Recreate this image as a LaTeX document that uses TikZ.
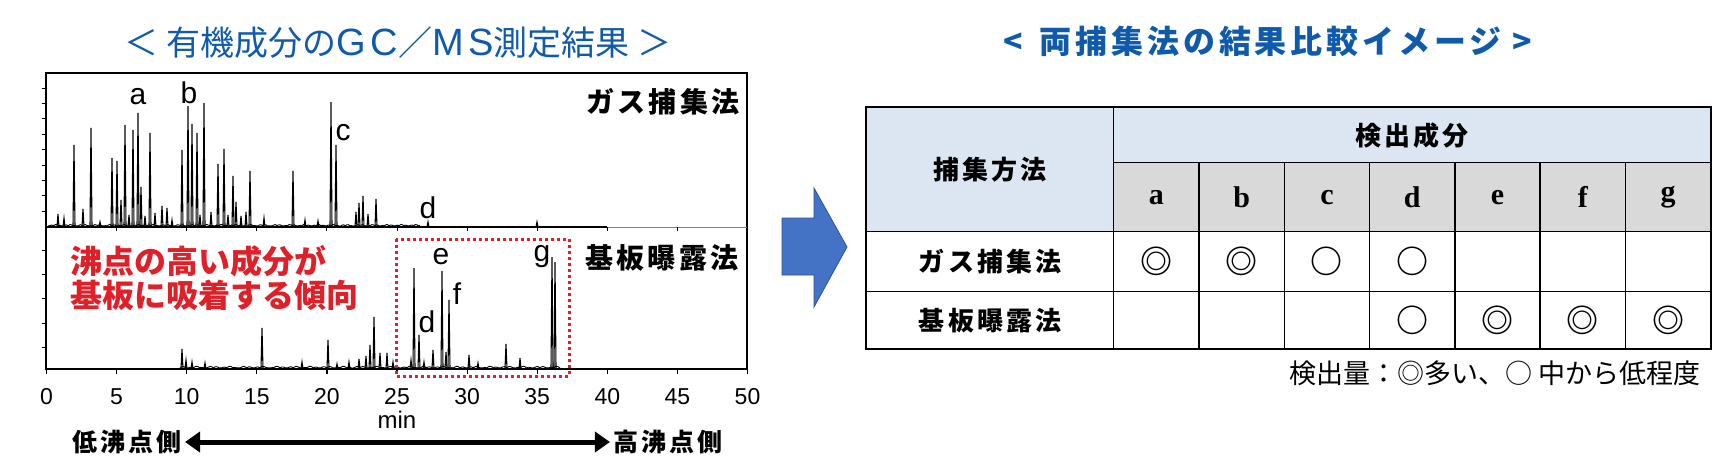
\documentclass[tikz,border=0pt]{standalone}
\usepackage{fontspec}
\setmainfont{Liberation Sans}
\newfontfamily\jp{Noto Sans CJK JP}
\newfontfamily\jpsp{Noto Sans CJK JP}[LetterSpace=12]
\newfontfamily\latsp{Liberation Sans}[LetterSpace=12]
\newfontfamily\serifb{Liberation Serif}
\usetikzlibrary{arrows.meta}

\definecolor{titleblue}{RGB}{16,90,172}
\definecolor{markred}{RGB}{224,32,40}
\definecolor{headblue}{RGB}{220,230,242}
\definecolor{headgray}{RGB}{217,217,217}
\definecolor{arrowblue}{RGB}{68,114,196}
\definecolor{arrowedge}{RGB}{47,82,143}
\newcommand{\fs}[1]{\fontsize{#1}{#1}\selectfont}

\begin{document}
\begin{tikzpicture}[
    x=1pt, y=-1pt,
    title/.style={text=titleblue, font=\jp\fs{34}},
    method/.style={font=\jpsp\bfseries\fs{28}},
    peak/.style={line width=1.1pt},
    noise/.style={line width=0.9pt, samples=240},
    lbl/.style={font=\fs{30}, inner sep=0pt},
    cell/.style={draw, line width=1.4pt, inner sep=0pt, anchor=north west},
    cellj/.style={font=\jpsp\bfseries\fs{26}},
    sym/.style={font=\jp\bfseries\fs{32}},
  ]
  \useasboundingbox (0,0) rectangle (1712,472);

  \node[title] (lefttitle) at (398,43) {＜ 有機成分の{\latsp\fs{38}GC}／{\latsp\fs{38}MS}測定結果 ＞};
  \node[title, font=\jpsp\bfseries\fs{32}] (righttitle) at (1268,41) {<\, 両捕集法の結果比較イメージ >};

  \draw[line width=1.6pt] (46,73) rectangle (747,369);
  \draw[line width=1.2pt] (46,227) -- (607,227);
  \draw[gray, line width=1pt] (607,227) -- (747,227);
  \draw[noise] plot[domain=48:420] (\x, {226-1.6*abs(sin(\x*37))*abs(cos(\x*13))});
  \draw[noise] plot[domain=180:560] (\x, {368-1.8*abs(sin(\x*27))*abs(cos(\x*11))});
  \foreach \t in {0,5,...,45}
    \draw[line width=1pt] ({46.5+14.02*\t},227) -- ++(0,4);
  \foreach \t in {0,5,...,50} {
    \draw[line width=1.2pt] ({46.5+14.02*\t},369) -- ++(0,5);
    \node[font=\fs{23}] (tick\t) at ({46.5+14.02*\t},397) {\t};
  }
  \node[font=\fs{24}] (unit) at (397,420) {min};
  \foreach \k in {0,...,8}
    \draw[line width=1pt] (46,{88+15.4*\k}) -- ++(-4,0);
  \foreach \y in {250,274,298,323,347}
    \draw[line width=1pt] (46,\y) -- ++(-4,0);

  \foreach \x/\h in {58/214, 64/218, 74/145, 83/209, 91/128, 100/222, 112/158, 117/161,
      121/200, 125/125, 129/215, 133/130, 138/113, 141/187, 145/216, 150/133,
      155/213, 162/206, 167/208, 172/220, 182/150, 188/106, 192/124, 197/133,
      200/215, 204/103, 211/212, 218/164, 224/149, 228/215, 233/176, 236/202,
      241/216, 246/212, 250/171, 264/218, 293/171, 305/220, 318/221, 331/102,
      336/145, 356/212, 359/203, 363/196, 368/214, 376/199, 428/222, 537/222}
    \draw[peak] (\x-1,227) -- (\x,\h) -- (\x+1,227);
  \foreach \x/\h in {182/349, 186/360, 192/362, 205/363, 262/328, 302/362, 328/340,
      337/364, 349/362, 359/359, 366/356, 370/345, 374/317, 380/353, 387/353,
      393/362, 411/360, 414/268, 419/335, 424/362, 433/350, 442/271, 446/352,
      449/300, 469/355, 478/363, 506/344, 520/358, 552/257, 555/262}
    \draw[peak] (\x-1,369) -- (\x,\h) -- (\x+1,369);

  \node[lbl] (pa) at (138,97) {a};
  \node[lbl] (pb) at (189,93) {b};
  \node[lbl] (pc) at (343,133) {c};
  \node[lbl] (pd) at (428,208) {d};
  \node[lbl] (qe) at (441,257) {e};
  \node[lbl] (qf) at (457,294) {f};
  \node[lbl] (qg) at (542,257) {g};
  \node[lbl] (qd) at (427,322) {d};

  \node[method] (gasname) at (663,102) {ガス捕集法};
  \node[method] (subname) at (662,258) {基板曝露法};

  \draw[markred, line width=3pt, dash pattern=on 3pt off 3pt] (396,239) rectangle (569,376);
  \node[anchor=west, align=left, text=markred, font=\jp\bfseries\fontsize{32}{34}\selectfont] (note) at (67,278)
    {沸点の高い成分が\\基板に吸着する傾向};

  \node[font=\jpsp\bfseries\fs{25}] (low) at (127,442) {低沸点側};
  \node[font=\jpsp\bfseries\fs{25}] (high) at (668,442) {高沸点側};
  \draw[line width=5pt, {Triangle[length=15pt,width=20pt]}-{Triangle[length=15pt,width=20pt]}] (low) -- (high);

  \draw[fill=arrowblue, draw=arrowedge, line width=0.8pt] (782,218) -- (814,218) -- (814,188)
    -- (847,247) -- (814,307) -- (814,275) -- (782,275) -- cycle;

  \node[cell, fill=headblue, minimum width=247pt, minimum height=124pt, cellj] (meth) at (866,107) {捕集方法};
  \node[cell, fill=headblue, minimum width=597pt, minimum height=55pt, cellj] (det) at (1113,107) {検出成分};
  \node[cell, minimum width=247pt, minimum height=60pt, cellj] (gasrow) at (866,231) {ガス捕集法};
  \node[cell, minimum width=247pt, minimum height=57pt, cellj] (subrow) at (866,291) {基板曝露法};
  \foreach \l/\g/\s [count=\i from 0] in {a/◎/,b/◎/,c/○/,d/○/○,e//◎,f//◎,g//◎} {
    \node[cell, fill=headgray, minimum width=85.28pt, minimum height=69pt, font=\serifb\bfseries\fs{30}]
      (col-\l) at ({1113+85.28*\i},162) {\l};
    \node[cell, minimum width=85.28pt, minimum height=60pt, sym] (gas-\l) at ({1113+85.28*\i},231) {\g};
    \node[cell, minimum width=85.28pt, minimum height=57pt, sym] (sub-\l) at ({1113+85.28*\i},291) {\s};
  }
  \draw[line width=2pt] (meth.north west) rectangle (sub-g.south east);

  \node[anchor=east, font=\jp\fs{27}] (legend) at (1704,373) {検出量：◎多い、○ 中から低程度};
\end{tikzpicture}
\end{document}
